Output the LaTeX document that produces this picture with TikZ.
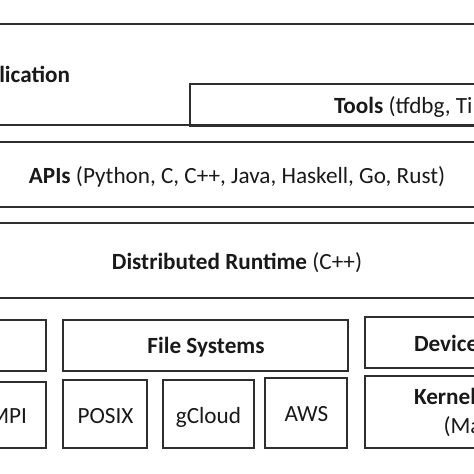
\documentclass[tikz,border=0pt]{standalone}
\usepackage{fontspec}
\setmainfont{Carlito}
\begin{document}
\begin{tikzpicture}[x=1pt,y=-1pt,
  box/.style={draw=black!82,line width=1.8pt,rectangle,inner sep=0pt,outer sep=0pt,anchor=north west},
  txt/.style={inner sep=0pt,outer sep=0pt,font=\fontsize{23.2}{27}\selectfont,text=black!90}]
\useasboundingbox (0,0) rectangle (474,474);
\clip (0,0) rectangle (474,474);
% boxes
\node[box,minimum width=504pt,minimum height=101pt] (app) at (-15,24) {};
\node[box,minimum width=300pt,minimum height=42pt] (tools) at (190,84) {};
\node[box,minimum width=504pt,minimum height=65pt] (apis) at (-15,142) {};
\node[box,minimum width=504pt,minimum height=75pt] (dr) at (-15,223) {};
\node[box,minimum width=61pt,minimum height=51pt] (left) at (-15,320) {};
\node[box,minimum width=285pt,minimum height=51pt] (fs) at (63,320) {};
\node[box,minimum width=61pt,minimum height=66pt] (mpi) at (-15,382) {};
\node[box,minimum width=84pt,minimum height=68pt] (posix) at (63,380) {};
\node[box,minimum width=91pt,minimum height=68pt] (gcloud) at (163,380) {};
\node[box,minimum width=82pt,minimum height=70pt] (aws) at (265,378) {};
\node[box,minimum width=130pt,minimum height=51pt] (dev) at (365,317) {};
\node[box,minimum width=130pt,minimum height=72pt] (kern) at (365,376) {};
% texts
\node[txt,anchor=base east] (tapp) at (70,82) {\textbf{lication}};
\node[txt,anchor=base west] (ttools) at (334,113) {\textbf{Tools} (tfdbg, Ti};
\node[txt,anchor=base] (tapis) at (237,183) {\textbf{APIs} (Python, C, C++, Java, Haskell, Go, Rust)};
\node[txt,anchor=base] (tdr) at (237,269) {\textbf{Distributed Runtime} (C++)};
\node[txt,anchor=base] (tfs) at (206,353) {\textbf{File Systems}};
\node[txt,anchor=base east] (tmpi) at (27,423) {MPI};
\node[txt,anchor=base] (tposix) at (105.5,423) {POSIX};
\node[txt,anchor=base] (tgcloud) at (208.5,423) {gCloud};
\node[txt,anchor=base] (taws) at (306.5,421) {AWS};
\node[txt,anchor=base west] (tdev) at (414,351) {\textbf{Device}};
\node[txt,anchor=base west] (tkern) at (414,404.5) {\textbf{Kernel}};
\node[txt,anchor=base west] (tma) at (443.5,433) {(Ma};
\end{tikzpicture}
\end{document}
